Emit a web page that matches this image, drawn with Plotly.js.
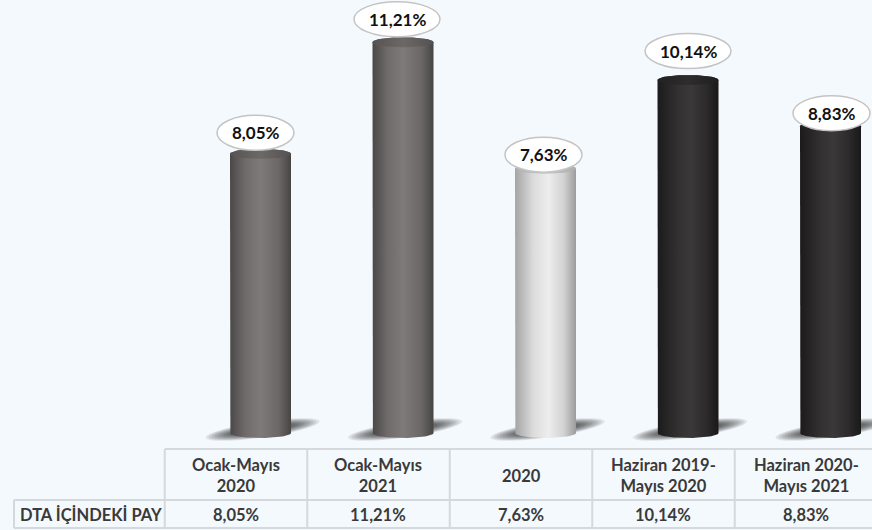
<!DOCTYPE html>
<html>
<head>
<meta charset="utf-8">
<script src="https://cdn.plot.ly/plotly-3.0.1.min.js"></script>
<style>
html,body{margin:0;padding:0;background:#f4f9fd;}
#chart{width:872px;height:530px;}
</style>
</head>
<body>
<div id="chart"></div>
<script>
// ---- data ----
const categories = ['Ocak-Mayıs<br>2020', 'Ocak-Mayıs<br>2021', '2020', 'Haziran 2019-<br>Mayıs 2020', 'Haziran 2020-<br>Mayıs 2021'];
const values = [8.05, 11.21, 7.63, 10.14, 8.83];
const valueLabels = ['8,05%', '11,21%', '7,63%', '10,14%', '8,83%'];
const rowLabel = 'DTA İÇİNDEKİ PAY';

// ---- styles ----
const BG = '#f4f9fd';
const FONT = 'Lato, "Open Sans", sans-serif';
const grayBody = [[0,'#4b4848'],[0.25,'#6f6b6b'],[0.5,'#7e7a7a'],[0.8,'#6b6767'],[1,'#474444']];
const grayCap  = [[0,'#575353'],[0.5,'#6c6868'],[1,'#555151']];
const lightBody = [[0,'#a4a4a4'],[0.3,'#dcdcdc'],[0.55,'#ededed'],[0.8,'#d2d2d2'],[1,'#9c9c9c']];
const lightCap  = [[0,'#b0b0b0'],[0.5,'#c6c6c6'],[1,'#aeaeae']];
const darkBody = [[0,'#1c1b1b'],[0.35,'#333131'],[0.55,'#3a3838'],[0.8,'#2c2a2a'],[1,'#1a1919']];
const darkCap  = [[0,'#222121'],[0.5,'#2e2c2c'],[1,'#201f1f']];
const bodyScales = [grayBody, grayBody, lightBody, darkBody, darkBody];
const capScales = [grayCap, grayCap, lightCap, darkCap, darkCap];
const labelOffsets = [16, 18, 9, 24, 8];  // px above bar top (layout tweak)
const labelShiftX = [-5, -6, -2, 0, 1];

const PXU = 35.3;           // px per y unit
const XPX = 142.5;          // px per category
const W = 872;
const xr0 = -260.5 / XPX, xr1 = xr0 + W / XPX;
const yr0 = -17 / PXU, yr1 = 433 / PXU;
const hw = 30.5 / XPX;      // half width of cylinder in x units
const ry = 5 / PXU;         // ellipse half height in y units

const traces = [];
const N = 40;
values.forEach((v, i) => {
  const xs = [], ys = [];
  const top = v - ry;
  xs.push(i - hw); ys.push(top);
  xs.push(i - hw); ys.push(0);
  for (let k = 0; k <= N; k++) {
    const t = Math.PI * k / N;
    xs.push(i - hw * Math.cos(t)); ys.push(0 - ry * Math.sin(t));
  }
  xs.push(i + hw); ys.push(top);
  for (let k = 0; k <= N; k++) {
    const t = Math.PI * k / N;
    xs.push(i + hw * Math.cos(t)); ys.push(top + ry * Math.sin(t));
  }
  traces.push({
    type: 'scatter', mode: 'lines', x: xs, y: ys, fill: 'toself',
    line: {width: 0, color: 'rgba(0,0,0,0)'},
    fillgradient: {type: 'horizontal', colorscale: bodyScales[i]},
    hoverinfo: 'skip', showlegend: false
  });
  const cx = [], cy = [];
  for (let k = 0; k <= 2 * N; k++) {
    const t = Math.PI * k / N;
    cx.push(i + hw * Math.cos(t)); cy.push(top + ry * Math.sin(t));
  }
  traces.push({
    type: 'scatter', mode: 'lines', x: cx, y: cy, fill: 'toself',
    line: {width: 0, color: 'rgba(0,0,0,0)'},
    fillgradient: {type: 'horizontal', colorscale: capScales[i]},
    hoverinfo: 'skip', showlegend: false
  });
});

const shapes = [];
const annotations = [];
const plotH = 450;
const py = p => (plotH - p) / plotH;          // pixel -> paper y
const px = xv => (xv - xr0) / (xr1 - xr0);    // x data -> paper x

// skewed soft shadows (pixel-sized paths anchored at each bar base)
function shadowPath(a, b, cxp, cyp, k) {
  let d = '';
  for (let s = 0; s <= 48; s++) {
    const t = 2 * Math.PI * s / 48;
    const xx = cxp + a * Math.cos(t);
    const yy = cyp + b * Math.sin(t) + k * a * Math.cos(t);
    d += (s === 0 ? 'M' : 'L') + xx.toFixed(2) + ',' + yy.toFixed(2);
  }
  return d + 'Z';
}
const shadowLayers = [];
for (let s = 0; s < 9; s++) {
  shadowLayers.push({a: 57 - s * 3, b: 8 - s * 0.55, o: 0.085});
}
values.forEach((v, i) => {
  shadowLayers.forEach(s => {
    shapes.push({type: 'path', layer: 'below', xref: 'x', yref: 'y',
      xsizemode: 'pixel', ysizemode: 'pixel', xanchor: i, yanchor: 0,
      path: shadowPath(s.a, s.b, 2, 3.5, 0.14),
      fillcolor: 'rgba(0,0,0,' + s.o + ')', line: {width: 0}});
  });
});

// value labels in ellipses
values.forEach((v, i) => {
  const w = 9 * valueLabels[i].length + 32;
  const off = labelOffsets[i], dx = labelShiftX[i];
  shapes.push({type: 'circle', layer: 'above', xref: 'x', yref: 'y',
    xsizemode: 'pixel', ysizemode: 'pixel', xanchor: i, yanchor: v,
    x0: dx - w / 2, x1: dx + w / 2, y0: off - 17.5, y1: off + 17.5,
    fillcolor: '#ffffff', line: {color: '#c4c4c4', width: 1.5}});
  annotations.push({xref: 'x', yref: 'y', x: i, y: v, xshift: dx, yshift: off,
    text: '<b>' + valueLabels[i] + '</b>', showarrow: false,
    xanchor: 'center', yanchor: 'middle',
    font: {family: FONT, size: 17, color: '#111111'}});
});

// table
const lineC = '#d6d9dc';
const tTop = py(449), tMid = py(500), tBot = py(528);
const colOff = -24.5 / XPX;
const firstLeft = px(0 + colOff - 0.5);
shapes.push({type: 'line', xref: 'paper', yref: 'paper', x0: firstLeft, x1: 1.01, y0: tTop, y1: tTop, line: {color: lineC, width: 2}});
shapes.push({type: 'line', xref: 'paper', yref: 'paper', x0: 14 / W, x1: 1.01, y0: tMid, y1: tMid, line: {color: lineC, width: 2}});
shapes.push({type: 'line', xref: 'paper', yref: 'paper', x0: 14 / W, x1: 1.01, y0: tBot, y1: tBot, line: {color: lineC, width: 2}});
shapes.push({type: 'line', xref: 'paper', yref: 'paper', x0: 14 / W, x1: 14 / W, y0: tMid, y1: tBot, line: {color: lineC, width: 2}});
for (let i = 0; i < categories.length; i++) {
  const xl = px(i + colOff - 0.5);
  shapes.push({type: 'line', xref: 'paper', yref: 'paper', x0: xl, x1: xl, y0: tTop, y1: tBot, line: {color: lineC, width: 2}});
  const xc = px(i + colOff);
  annotations.push({xref: 'paper', yref: 'paper', x: xc, y: py(476), text: '<b>' + categories[i] + '</b>',
    showarrow: false, xanchor: 'center', yanchor: 'middle',
    font: {family: FONT, size: 16.5, color: '#3a3a3a'}});
  annotations.push({xref: 'paper', yref: 'paper', x: xc, y: py(515), text: '<b>' + valueLabels[i] + '</b>',
    showarrow: false, xanchor: 'center', yanchor: 'middle',
    font: {family: FONT, size: 16.5, color: '#3a3a3a'}});
}
annotations.push({xref: 'paper', yref: 'paper', x: 18 / W, y: py(515), text: '<b>' + rowLabel + '</b>',
  showarrow: false, xanchor: 'left', yanchor: 'middle',
  font: {family: FONT, size: 16.5, color: '#3a3a3a'}});

const layout = {
  width: 872, height: 530,
  margin: {l: 0, r: 0, t: 0, b: 80, pad: 0},
  paper_bgcolor: BG, plot_bgcolor: BG,
  xaxis: {range: [xr0, xr1], visible: false, fixedrange: true},
  yaxis: {range: [yr0, yr1], visible: false, fixedrange: true},
  shapes: shapes, annotations: annotations, showlegend: false
};

Plotly.newPlot('chart', traces, layout, {displayModeBar: false, staticPlot: true});
</script>
</body>
</html>
